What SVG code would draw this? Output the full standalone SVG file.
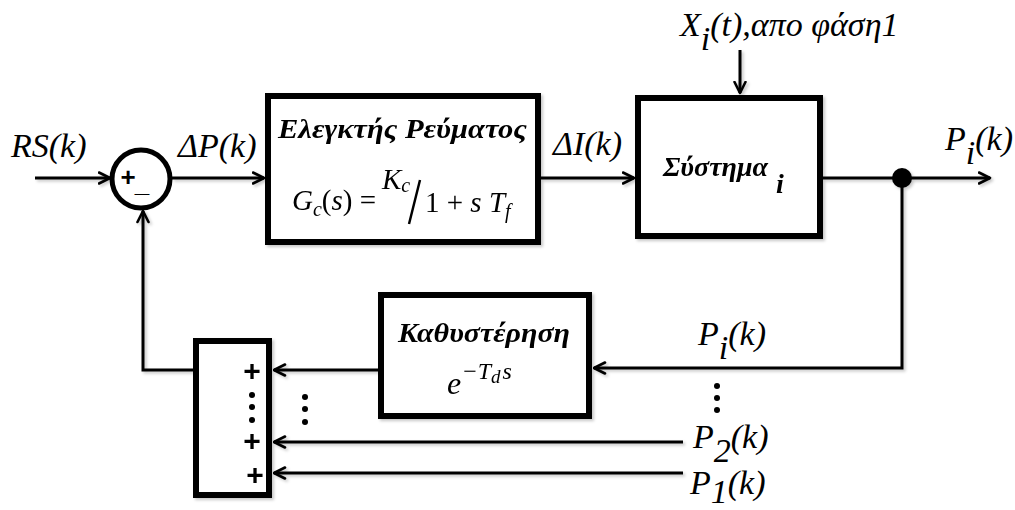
<svg xmlns="http://www.w3.org/2000/svg" width="1015" height="510" viewBox="0 0 1015 510">
<defs>
<marker id="arr" viewBox="0 0 14 14" refX="12.5" refY="7" markerWidth="14" markerHeight="14" markerUnits="userSpaceOnUse" orient="auto">
<path d="M1.5,1.5 L12.5,7 L1.5,12.5" fill="none" stroke="#000" stroke-width="2.6" stroke-linecap="round" stroke-linejoin="round"/>
</marker>
<filter id="sh" x="-10%" y="-10%" width="120%" height="120%">
<feDropShadow dx="2" dy="2" stdDeviation="1.5" flood-color="#000" flood-opacity="0.22"/>
</filter>
</defs>
<style>
.box{fill:#fff;stroke:#000;stroke-width:6}
.ln{fill:none;stroke:#000;stroke-width:3}
.it{font-family:"Liberation Serif","DejaVu Serif",serif;font-style:italic;font-size:34px;fill:#000}
.bi{font-family:"Liberation Serif","DejaVu Serif",serif;font-style:italic;font-weight:bold;font-size:28px;fill:#000}
.m{font-family:"Liberation Serif","DejaVu Serif",serif;font-size:29px;fill:#000}
.pl{font-family:"Liberation Sans",Arial,sans-serif;font-weight:bold;font-size:30px;fill:#000}
.pc{font-family:"Liberation Sans",Arial,sans-serif;font-weight:bold;font-size:26px;fill:#000}
</style>
<rect width="1015" height="510" fill="#fff"/>

<g id="connectors" filter="url(#sh)">
<line class="ln" x1="35" y1="178" x2="110" y2="178" marker-end="url(#arr)"/>
<line class="ln" x1="172" y1="178" x2="264" y2="178" marker-end="url(#arr)"/>
<line class="ln" x1="541" y1="178" x2="634" y2="178" marker-end="url(#arr)"/>
<line class="ln" x1="740" y1="50" x2="740" y2="93" marker-end="url(#arr)"/>
<line class="ln" x1="823" y1="178" x2="990" y2="178" marker-end="url(#arr)"/>
<polyline class="ln" points="902,178 902,368 594,368" marker-end="url(#arr)"/>
<line class="ln" x1="378" y1="370" x2="274" y2="370" marker-end="url(#arr)"/>
<line class="ln" x1="683" y1="442" x2="274" y2="442" marker-end="url(#arr)"/>
<line class="ln" x1="683" y1="473" x2="274" y2="473" marker-end="url(#arr)"/>
<polyline class="ln" points="193,370 143,370 143,211" marker-end="url(#arr)"/>
<circle cx="902" cy="178" r="10" fill="#000"/>
</g>

<g id="sum1">
<circle cx="141" cy="179" r="29" fill="#fff" stroke="#000" stroke-width="5"/>
<text class="pc" x="128" y="186" text-anchor="middle">+</text>
<text class="pc" x="142" y="192" text-anchor="middle">_</text>
</g>

<g id="lbl-rs"><text class="it" x="11" y="157">RS(k)</text></g>
<g id="lbl-dp"><text class="it" x="178" y="157">ΔP(k)</text></g>
<g id="lbl-di"><text class="it" x="553" y="155">ΔI(k)</text></g>

<g id="controller" filter="url(#sh)">
<rect class="box" x="268" y="96" width="270" height="146"/>
<text class="bi" x="278" y="138" textLength="249" lengthAdjust="spacingAndGlyphs">Ελεγκτής Ρεύματος</text>
<text class="m" x="292" y="210"><tspan font-style="italic">G</tspan><tspan font-style="italic" font-size="20" dy="6">c</tspan><tspan dy="-6">(</tspan><tspan font-style="italic">s</tspan><tspan>) =</tspan></text>
<text class="m" x="382" y="189"><tspan font-style="italic">K</tspan><tspan font-style="italic" font-size="20" dy="3">c</tspan></text>
<line x1="409" y1="224" x2="420" y2="180" stroke="#000" stroke-width="2.5"/>
<text class="m" x="425" y="212"><tspan>1 + </tspan><tspan font-style="italic">s T</tspan><tspan font-style="italic" font-size="20" dy="6">f</tspan></text>
</g>

<g id="system" filter="url(#sh)">
<rect class="box" x="638" y="98" width="182" height="138"/>
<text class="bi" x="663" y="176" textLength="105" lengthAdjust="spacingAndGlyphs">Σύστημα</text>
<text class="bi" x="776" y="193" font-size="30">i</text>
</g>

<g id="lbl-x"><text class="it" x="680" y="36">X<tspan dy="14">i</tspan><tspan dy="-14">(t),απο φάση1</tspan></text></g>
<g id="lbl-pi-out"><text class="it" x="945" y="150">P<tspan dy="14">i</tspan><tspan dy="-14">(k)</tspan></text></g>

<g id="delay" filter="url(#sh)">
<rect class="box" x="381" y="295" width="208" height="121"/>
<text class="bi" x="398" y="342" textLength="172" lengthAdjust="spacingAndGlyphs">Καθυστέρηση</text>
<text class="m" x="447" y="394"><tspan font-style="italic" font-size="32">e</tspan><tspan font-size="24" dx="2" dy="-15">−</tspan><tspan font-style="italic" font-size="24" dx="1">T</tspan><tspan font-style="italic" font-size="19" dy="4">d</tspan><tspan font-style="italic" font-size="24" dx="2" dy="-4">s</tspan></text>
</g>

<g id="sum2" filter="url(#sh)">
<rect class="box" x="196" y="341" width="73" height="154"/>
<text class="pl" x="252" y="381" text-anchor="middle">+</text>
<text class="pl" x="252" y="451" text-anchor="middle">+</text>
<text class="pl" x="255" y="485" text-anchor="middle">+</text>
<circle cx="252" cy="395" r="3" fill="#000"/>
<circle cx="252" cy="407" r="3" fill="#000"/>
<circle cx="252" cy="420" r="3" fill="#000"/>
</g>

<g id="dots-mid">
<circle cx="305" cy="397" r="3" fill="#000"/>
<circle cx="305" cy="409" r="3" fill="#000"/>
<circle cx="305" cy="422" r="3" fill="#000"/>
<circle cx="717" cy="386" r="3" fill="#000"/>
<circle cx="717" cy="398" r="3" fill="#000"/>
<circle cx="717" cy="410" r="3" fill="#000"/>
</g>

<g id="lbl-pi-fb"><text class="it" x="698" y="345">P<tspan dy="14">i</tspan><tspan dy="-14">(k)</tspan></text></g>
<g id="lbl-p2"><text class="it" x="693" y="448">P<tspan dy="14">2</tspan><tspan dy="-14">(k)</tspan></text></g>
<g id="lbl-p1"><text class="it" x="690" y="494" font-size="33">P<tspan dy="9">1</tspan><tspan dy="-9">(k)</tspan></text></g>
</svg>
